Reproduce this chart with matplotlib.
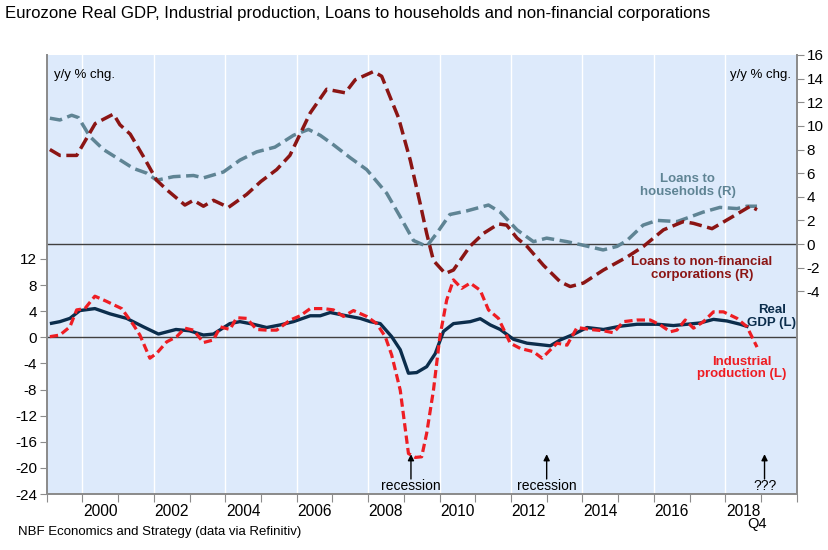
import numpy as np
import matplotlib
matplotlib.use('Agg')
import matplotlib.pyplot as plt

plt.rcParams['font.family'] = ['Liberation Sans', 'DejaVu Sans']

# --- data (y/y % chg.) ---
hh_x = [1999.09, 1999.37, 1999.70, 1999.89, 2000.21, 2000.59, 2000.96, 2001.43, 2001.80,
        2002.08, 2002.55, 2003.11, 2003.39, 2003.95, 2004.41, 2004.88, 2005.39, 2005.91,
        2006.33, 2006.66, 2007.03, 2007.50, 2007.96, 2008.52, 2008.90, 2009.27, 2009.64,
        2009.92, 2010.29, 2010.76, 2011.37, 2011.70, 2012.17, 2012.63, 2013.00, 2013.57,
        2014.02, 2014.58, 2014.97, 2015.25, 2015.70, 2016.09, 2016.65, 2016.93, 2017.38,
        2017.85, 2018.33, 2018.61, 2018.89]
hh_y = [10.65, 10.5, 10.9, 10.7, 9.1, 8.0, 7.3, 6.4, 6.0,
        5.4, 5.7, 5.8, 5.6, 6.1, 7.1, 7.8, 8.2, 9.2,
        9.7, 9.2, 8.4, 7.3, 6.3, 4.3, 2.3, 0.3, -0.2,
        0.9, 2.5, 2.8, 3.3, 2.7, 1.2, 0.2, 0.5, 0.2,
        -0.1, -0.5, -0.2, 0.3, 1.6, 2.0, 1.9, 2.2, 2.7,
        3.1, 3.0, 3.2, 3.2]

nfc_x = [1999.09, 1999.37, 1999.84, 2000.36, 2000.87, 2001.05, 2001.34, 2001.71, 2002.08,
         2002.36, 2002.87, 2003.11, 2003.39, 2003.67, 2004.09, 2004.60, 2005.00, 2005.44,
         2005.81, 2006.38, 2006.84, 2007.36, 2007.64, 2008.15, 2008.38, 2008.85, 2009.18,
         2009.46, 2009.64, 2009.83, 2010.16, 2010.39, 2010.85, 2011.23, 2011.65, 2011.88,
         2012.17, 2012.45, 2012.91, 2013.38, 2013.66, 2014.03, 2014.59, 2015.25, 2015.71,
         2016.27, 2016.83, 2017.11, 2017.63, 2018.14, 2018.70, 2018.89]
nfc_y = [8.0, 7.5, 7.5, 10.2, 11.0, 10.1, 9.3, 7.4, 5.4,
         4.6, 3.3, 3.7, 3.2, 3.7, 3.1, 4.2, 5.3, 6.3,
         7.5, 11.1, 13.1, 12.8, 13.9, 14.6, 14.2, 10.7, 7.1,
         3.4, 0.9, -1.4, -2.5, -2.2, -0.2, 0.9, 1.7, 1.6,
         0.5, -0.2, -1.8, -3.2, -3.6, -3.3, -2.2, -1.1, -0.2,
         1.2, 1.9, 1.75, 1.3, 2.2, 3.2, 2.9]

gdp_x = [1999.09, 1999.37, 1999.65, 1999.93, 2000.35, 2000.77, 2001.24, 2001.71, 2002.13,
         2002.62, 2003.00, 2003.39, 2003.67, 2004.13, 2004.41, 2004.79, 2005.16, 2005.54,
         2005.91, 2006.38, 2006.66, 2006.94, 2007.30, 2007.78, 2008.06, 2008.34, 2008.66,
         2008.90, 2009.13, 2009.36, 2009.64, 2009.88, 2010.11, 2010.39, 2010.86, 2011.14,
         2011.42, 2011.70, 2012.07, 2012.45, 2013.10, 2013.38, 2013.75, 2014.13, 2014.59,
         2015.06, 2015.53, 2016.09, 2016.55, 2016.93, 2017.30, 2017.67, 2018.05, 2018.42,
         2018.65]
gdp_y = [2.1, 2.4, 2.9, 4.1, 4.4, 3.6, 2.9, 1.6, 0.5,
         1.2, 1.0, 0.35, 0.5, 2.1, 2.4, 2.0, 1.5, 1.9,
         2.4, 3.3, 3.3, 3.8, 3.4, 2.9, 2.4, 2.1, 0.1,
         -1.9, -5.5, -5.4, -4.5, -2.5, 0.9, 2.1, 2.4, 2.85,
         1.9, 1.2, -0.3, -0.9, -1.3, -0.4, 0.45, 1.5, 1.2,
         1.7, 2.0, 2.0, 1.8, 2.0, 2.2, 2.75, 2.5, 2.0,
         1.6]

ip_x = [1999.09, 1999.37, 1999.65, 1999.84, 2000.07, 2000.35, 2000.68, 2001.10, 2001.43,
        2001.61, 2001.89, 2002.08, 2002.36, 2002.64, 2002.87, 2003.11, 2003.39, 2003.67,
        2003.86, 2004.13, 2004.32, 2004.60, 2004.88, 2005.16, 2005.44, 2005.82, 2006.10,
        2006.38, 2006.75, 2007.03, 2007.31, 2007.59, 2007.96, 2008.24, 2008.48, 2008.66,
        2008.90, 2009.13, 2009.32, 2009.50, 2009.64, 2009.83, 2010.01, 2010.20, 2010.39,
        2010.62, 2010.86, 2011.14, 2011.37, 2011.65, 2011.98, 2012.26, 2012.63, 2012.87,
        2013.29, 2013.57, 2013.85, 2014.22, 2014.59, 2014.87, 2015.15, 2015.53, 2015.90,
        2016.18, 2016.46, 2016.65, 2016.88, 2017.11, 2017.39, 2017.67, 2017.95, 2018.33,
        2018.61, 2018.89]
ip_y = [0.1, 0.35, 1.6, 4.2, 4.4, 6.3, 5.5, 4.4, 1.9,
        0.35, -3.2, -2.45, -0.7, 0.1, 1.4, 1.1, -0.8, -0.4,
        1.6, 1.2, 3.0, 2.9, 1.2, 1.1, 1.1, 2.65, 3.3,
        4.4, 4.4, 4.2, 3.2, 4.1, 3.2, 2.1, 0.1, -2.7,
        -8.1, -17.8, -18.4, -18.3, -14.7, -8.1, 0.1, 5.7, 8.8,
        7.5, 8.3, 7.2, 4.2, 2.9, -0.9, -1.7, -2.2, -3.2,
        -0.9, -1.2, 1.5, 1.2, 1.0, 0.7, 2.4, 2.65, 2.65,
        1.9, 0.85, 1.1, 2.65, 1.4, 2.4, 3.9, 3.9, 2.9,
        1.6, -1.5]

# annotations: (x position, text)
notes = [(2009.2, 'recession'), (2013.0, 'recession'), (2019.1, '???')]

BG = '#ddeafb'
C_GDP = '#0b2d4c'
C_IP = '#ee1d23'
C_NFC = '#8b1514'
C_HH = '#5f8494'
SPINE = '#8c8c8c'

fig = plt.figure(figsize=(8.29, 5.5), dpi=100)
ax = fig.add_axes([0.0563, 0.1018, 0.9047, 0.7982])
ax2 = ax.twinx()
ax.set_facecolor(BG)
ax2.patch.set_visible(False)

ax.set_xlim(1999, 2020)
ax.set_ylim(-24, 43.24)
ax2.set_ylim(-21.16, 16)

# white vertical grid lines at even years
for yr in range(2000, 2019, 2):
    ax.axvline(yr, color='white', lw=1, zorder=1)

ax.axhline(0, color='#404040', lw=1, zorder=2)
ax2.axhline(0, color='#404040', lw=1, zorder=2)

ax.plot(gdp_x, gdp_y, color=C_GDP, lw=2.4, solid_capstyle='butt', zorder=4)
ax.plot(ip_x, ip_y, color=C_IP, lw=2.3, dashes=(2.6, 1.3), zorder=5)
ax2.plot(hh_x, hh_y, color=C_HH, lw=2.5, dashes=(3.6, 1.6), zorder=4)
ax2.plot(nfc_x, nfc_y, color=C_NFC, lw=2.5, dashes=(3.6, 1.6), zorder=5)

# spines
for a in (ax, ax2):
    a.spines['top'].set_visible(False)
    for s in ('left', 'right', 'bottom'):
        a.spines[s].set_color(SPINE)
        a.spines[s].set_linewidth(1.3)

# ticks
ax.set_yticks(np.arange(-24, 13, 4))
ax.set_yticklabels([str(v) for v in range(-24, 13, 4)])
ax2.set_yticks(np.arange(-4, 17, 2))
ax2.set_yticklabels([str(v) for v in range(-4, 17, 2)])
ax.tick_params(axis='y', length=5, color=SPINE, labelsize=11, pad=2)
ax2.tick_params(axis='y', length=5, color=SPINE, labelsize=11, pad=2)

ax.set_xticks(np.arange(1999, 2021, 1))
ax.set_xticklabels([])
ax.set_xticks(np.arange(2000, 2019, 2) + 0.5, minor=True)
ax.set_xticklabels([str(y) for y in range(2000, 2019, 2)], minor=True)
ax.tick_params(axis='x', which='major', length=6, color=SPINE)
ax.tick_params(axis='x', which='minor', length=0, labelsize=11.2, pad=7)
ax.text(2018.88, -28.6, 'Q4', ha='center', va='center', fontsize=10.5)

# y/y labels
ax.text(0.01, 0.955, 'y/y % chg.', transform=ax.transAxes, ha='left', va='center', fontsize=9.5)
ax.text(0.993, 0.955, 'y/y % chg.', transform=ax.transAxes, ha='right', va='center', fontsize=9.5)

# series labels
ax2.text(2016.95, 4.95, 'Loans to\nhouseholds (R)', color=C_HH, fontsize=9.5, fontweight='bold',
         ha='center', va='center', linespacing=1.1)
ax2.text(2017.35, -2.1, 'Loans to non-financial\ncorporations (R)', color=C_NFC, fontsize=9.5,
         fontweight='bold', ha='center', va='center', linespacing=1.1)
ax.text(2019.3, 3.15, 'Real\nGDP (L)', color=C_GDP, fontsize=9.5, fontweight='bold',
        ha='center', va='center', linespacing=1.1)
ax.text(2018.46, -4.7, 'Industrial\nproduction (L)', color=C_IP, fontsize=9.5, fontweight='bold',
        ha='center', va='center', linespacing=1.1)

# recession arrows
for xpos, label in notes:
    ax.annotate('', xy=(xpos, -17.9), xytext=(xpos, -21.7),
                arrowprops=dict(arrowstyle='-|>', color='black', lw=1, mutation_scale=9,
                                shrinkA=0, shrinkB=0))
    ax.text(xpos, -22.8, label, ha='center', va='center', fontsize=10)

fig.text(0.006, 0.975, 'Eurozone Real GDP, Industrial production, Loans to households and non-financial corporations',
         ha='left', va='center', fontsize=12.1)
fig.text(0.022, 0.033, 'NBF Economics and Strategy (data via Refinitiv)', ha='left', va='center', fontsize=9.5)

fig.savefig('out.png', dpi=100)
